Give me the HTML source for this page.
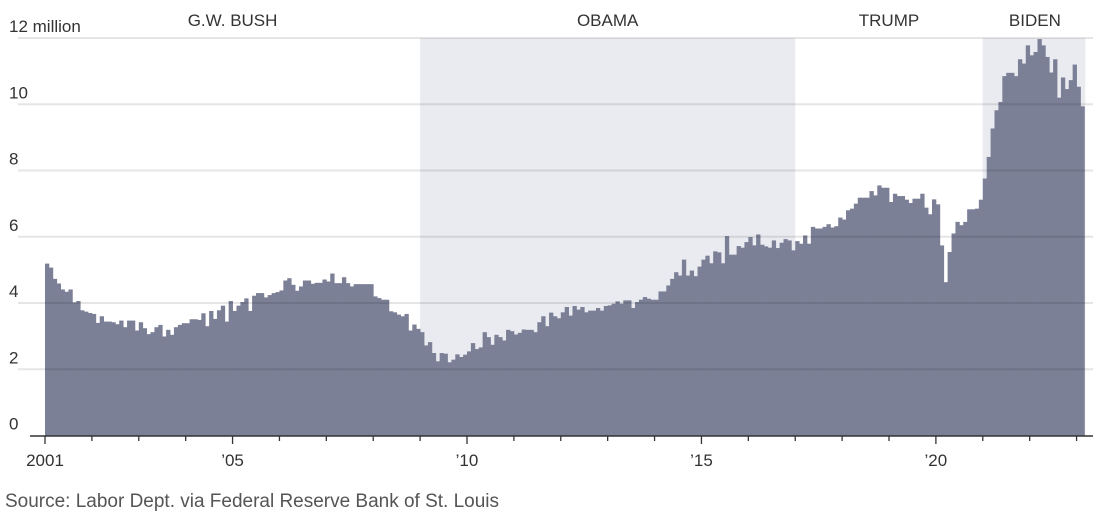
<!DOCTYPE html>
<html><head><meta charset="utf-8"><style>
body{margin:0;background:#fff;}
svg{display:block;font-family:"Liberation Sans",sans-serif;}
</style></head><body>
<svg id="chart" width="1095" height="521" viewBox="0 0 1095 521">
<g id="shade"></g>
<g id="bars"></g>
<g id="grid"></g>
<g id="ylab"></g>
<g id="pres"></g>
<g id="xaxis"></g>
<text x="5" y="507" font-size="19" fill="#555" textLength="494">Source: Labor Dept. via Federal Reserve Bank of St. Louis</text>
</svg>
<script>
const values = [
5.19,5.07,4.73,4.59,4.41,4.34,4.41,4.02,4.06,3.78,3.74,3.7,
3.67,3.4,3.6,3.44,3.44,3.42,3.36,3.47,3.27,3.47,3.47,3.17,
3.42,3.24,3.06,3.12,3.27,3.34,2.99,3.19,3.04,3.27,3.34,3.39,
3.39,3.51,3.51,3.49,3.69,3.3,3.76,3.52,3.78,3.92,3.44,4.06,
3.76,3.92,4.03,4.14,3.76,4.22,4.3,4.3,4.17,4.24,4.3,4.33,
4.38,4.68,4.75,4.55,4.37,4.5,4.68,4.68,4.58,4.61,4.61,4.71,
4.65,4.89,4.6,4.6,4.78,4.6,4.5,4.57,4.57,4.57,4.57,4.57,
4.2,4.15,4.1,4.1,3.75,3.72,3.65,3.6,
3.67,3.17,3.35,3.22,3.12,2.72,2.82,2.49,2.24,2.49,2.47,2.21,2.29,2.45,2.37,2.44,2.54,2.79,2.61,2.66,
3.12,2.97,2.74,3.04,2.97,2.87,3.19,3.15,3.05,3.1,3.2,3.19,3.19,3.12,3.42,3.6,3.3,3.71,3.6,3.54,
3.72,3.88,3.62,3.91,3.8,3.88,3.72,3.77,3.77,3.85,3.77,3.91,3.93,3.98,4.05,3.98,4.08,4.08,3.85,4.03,
4.1,4.18,4.13,4.1,4.1,4.35,4.35,4.53,4.73,4.93,4.83,5.31,4.83,4.98,4.81,5.1,5.31,5.43,5.2,5.56,
5.53,5.2,6.02,5.46,5.46,5.72,5.67,5.84,5.99,5.74,6.07,5.76,5.71,5.67,5.89,5.66,5.82,5.93,5.89,5.59,
5.87,5.79,6.04,5.79,6.3,6.25,6.25,6.3,6.38,6.28,6.32,6.58,6.52,6.8,6.85,7.0,7.18,7.18,7.18,7.38,
7.25,7.55,7.48,7.48,7.05,7.3,7.23,7.23,7.12,7.02,7.15,7.15,7.3,6.88,6.68,7.13,6.98,5.74,4.63,5.54,
6.1,6.45,6.35,6.45,6.83,6.83,6.85,7.12,7.76,8.41,9.27,9.82,10.07,10.85,10.95,10.95,10.85,11.36,11.23,11.78,11.48,
11.58,11.97,11.78,11.43,10.96,11.36,10.2,10.81,10.46,10.73,11.2,10.53,9.94
];
const yTicks = [0,2,4,6,8,10,12];
const yTickLabels = ["0","2","4","6","8","10","12 million"];
const yearTicks = [2001,2002,2003,2004,2005,2006,2007,2008,2009,2010,2011,2012,2013,2014,2015,2016,2017,2018,2019,2020,2021,2022,2023];
const yearLabels = {2001:"2001",2005:"’05",2010:"’10",2015:"’15",2020:"’20"};
const presidents = ["G.W. BUSH","OBAMA","TRUMP","BIDEN"];
const presStart = [2001,2009,2017,2021];
const presEnd = [2009,2017,2021,2023.25];
const shaded = [false,true,false,true];

const NS="http://www.w3.org/2000/svg";
const MW=(467-45)/108;
const xm = m => 45 + m*MW;
const xy = yr => xm((yr-2001)*12);
const yv = v => 435.5 - v*33.12;
function mk(tag, attrs, parent){const e=document.createElementNS(NS,tag);for(const k in attrs)e.setAttribute(k,attrs[k]);parent.appendChild(e);return e;}

const shade=document.getElementById('shade');
presidents.forEach((p,i)=>{
  if(!shaded[i])return;
  const x1=xy(presStart[i]), x2=Math.min(xy(presEnd[i]),xm(values.length)+1);
  const r=mk('rect',{x:x1,y:yv(12),width:x2-x1,height:yv(0)-yv(12),fill:'#e9ebf0'},shade);
  
  
});

const bars=document.getElementById('bars');
values.forEach((v,i)=>{
  const r=mk('rect',{x:xm(i),y:yv(v),width:MW+0.4,height:yv(0)-yv(v),fill:'#7c8097'},bars);
  
  
});

const grid=document.getElementById('grid'), ylab=document.getElementById('ylab');
yTicks.forEach((t,i)=>{
  if(t>0){
    const l=mk('line',{x1:18,x2:1093,y1:yv(t),y2:yv(t),stroke:'rgba(0,0,0,0.1)','stroke-width':2},grid);
    
    
  }
  const tx=mk('text',{x:9,y:yv(t)-6,'font-size':17,fill:'#333'},ylab);
  tx.textContent=yTickLabels[i];
  
  
});

const pres=document.getElementById('pres');
presidents.forEach((p,i)=>{
  let cx=(xy(presStart[i])+Math.min(xy(presEnd[i]),1087))/2;
  const tx=mk('text',{x:cx,y:26,'font-size':17,fill:'#333','text-anchor':'middle'},pres);
  tx.textContent=p;
  
  
});

const xa=document.getElementById('xaxis');
const al=mk('line',{x1:30,x2:1093,y1:436,y2:436,stroke:'#333','stroke-width':1.5},xa);


yearTicks.forEach(yr=>{
  const major=yearLabels[yr]!==undefined;
  const x=xy(yr);
  const t=mk('line',{x1:x,x2:x,y1:436,y2:major?444:441,stroke:'#333','stroke-width':1.3},xa);
  
  
  if(major){
    const tx=mk('text',{x:x,y:466,'font-size':17,fill:'#333','text-anchor':'middle'},xa);
    tx.textContent=yearLabels[yr];
    
    
  }
});
</script>
</body></html>
